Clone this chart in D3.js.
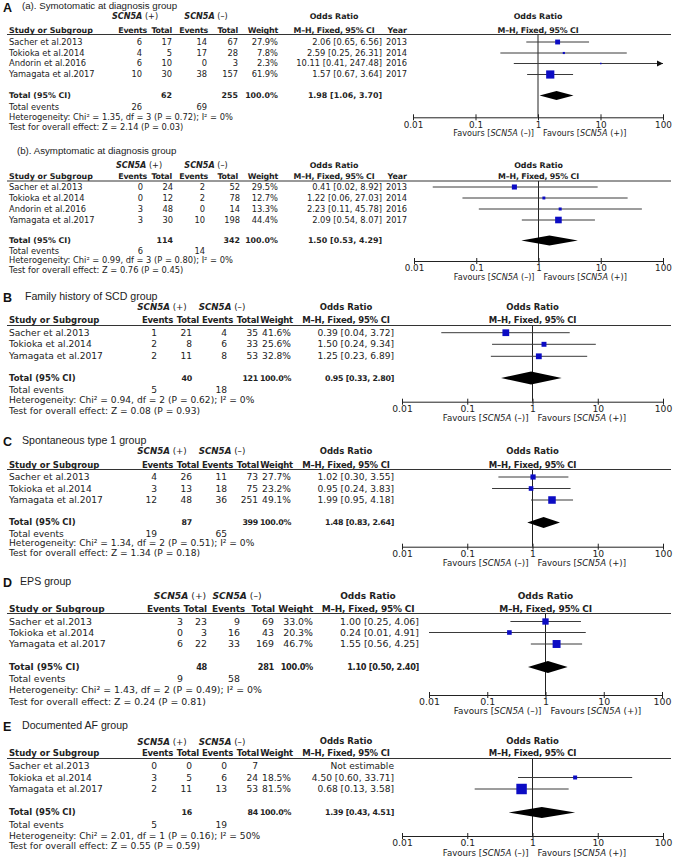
<!DOCTYPE html>
<html><head><meta charset="utf-8">
<script src="https://cdn.jsdelivr.net/npm/d3@7"></script>
<style>body{margin:0;background:#fff} svg{display:block}</style>
</head><body>
<script>
// ================= DATA =================
const panelLetters = ["A", "", "B", "C", "D", "E"];
const panelTitles = [
  "(a). Symotomatic at diagnosis group",
  "(b). Asymptomatic at diagnosis group",
  "Family history of SCD group",
  "Spontaneous type 1 group",
  "EPS group",
  "Documented AF group"
];
const studies4 = ["Sacher et al.2013", "Tokioka et al.2014", "Andorin et al.2016", "Yamagata et al.2017"];
const studies3 = ["Sacher et al.2013", "Tokioka et al.2014", "Yamagata et al.2017"];
const years4 = [2013, 2014, 2016, 2017];

// (a) symptomatic
const evPos_a = [6, 4, 6, 10], totPos_a = [17, 5, 10, 30], evNeg_a = [14, 17, 0, 38], totNeg_a = [67, 28, 3, 157];
const weight_a = [27.9, 7.8, 2.3, 61.9], or_a = [2.06, 2.59, 10.11, 1.57], lo_a = [0.65, 0.25, 0.41, 0.67], hi_a = [6.56, 26.31, 247.48, 3.64];
// (b) asymptomatic
const evPos_b = [0, 0, 3, 3], totPos_b = [24, 12, 48, 30], evNeg_b = [2, 2, 0, 10], totNeg_b = [52, 78, 14, 198];
const weight_b = [29.5, 12.7, 13.3, 44.4], or_b = [0.41, 1.22, 2.23, 2.09], lo_b = [0.02, 0.06, 0.11, 0.54], hi_b = [8.92, 27.03, 45.78, 8.07];
// B family history
const evPos_B = [1, 2, 2], totPos_B = [21, 8, 11], evNeg_B = [4, 6, 8], totNeg_B = [35, 33, 53];
const weight_B = [41.6, 25.6, 32.8], or_B = [0.39, 1.50, 1.25], lo_B = [0.04, 0.24, 0.23], hi_B = [3.72, 9.34, 6.89];
// C spontaneous type 1
const evPos_C = [4, 3, 12], totPos_C = [26, 13, 48], evNeg_C = [11, 18, 36], totNeg_C = [73, 75, 251];
const weight_C = [27.7, 23.2, 49.1], or_C = [1.02, 0.95, 1.99], lo_C = [0.30, 0.24, 0.95], hi_C = [3.55, 3.83, 4.18];
// D EPS
const evPos_D = [3, 0, 6], totPos_D = [23, 3, 22], evNeg_D = [9, 16, 33], totNeg_D = [69, 43, 169];
const weight_D = [33.0, 20.3, 46.7], or_D = [1.00, 0.24, 1.55], lo_D = [0.25, 0.01, 0.56], hi_D = [4.06, 4.91, 4.25];
// E documented AF
const evPos_E = [0, 3, 2], totPos_E = [0, 5, 11], evNeg_E = [0, 6, 13], totNeg_E = [7, 24, 53];
const weight_E = [null, 18.5, 81.5], or_E = [null, 4.50, 0.68], lo_E = [null, 0.60, 0.13], hi_E = [null, 33.71, 3.58];

// totals / statistics, one entry per panel
const totalPos = [62, 114, 40, 87, 48, 16];
const totalNeg = [255, 342, 121, 399, 281, 84];
const totalOR = [1.98, 1.50, 0.95, 1.48, 1.10, 1.39];
const totalLo = [1.06, 0.53, 0.33, 0.83, 0.50, 0.43];
const totalHi = [3.70, 4.29, 2.80, 2.64, 2.40, 4.51];
const totalEvPos = [26, 6, 5, 19, 9, 5];
const totalEvNeg = [69, 14, 18, 65, 58, 19];
const hetChi2 = [1.35, 0.99, 0.94, 1.34, 1.43, 2.01];
const hetDf = [3, 3, 2, 2, 2, 1];
const hetP = [0.72, 0.80, 0.62, 0.51, 0.49, 0.16];
const hetI2 = [0, 0, 0, 0, 0, 50];
const effZ = [2.14, 0.76, 0.08, 1.34, 0.24, 0.55];
const effP = [0.03, 0.45, 0.93, 0.18, 0.81, 0.59];
const axisTicks = [0.01, 0.1, 1, 10, 100];

// tables built from the arrays above
const panels = [
  {studies: studies4, years: years4, evPos: evPos_a, totPos: totPos_a, evNeg: evNeg_a, totNeg: totNeg_a, weight: weight_a, or: or_a, lo: lo_a, hi: hi_a},
  {studies: studies4, years: years4, evPos: evPos_b, totPos: totPos_b, evNeg: evNeg_b, totNeg: totNeg_b, weight: weight_b, or: or_b, lo: lo_b, hi: hi_b},
  {studies: studies3, years: null, evPos: evPos_B, totPos: totPos_B, evNeg: evNeg_B, totNeg: totNeg_B, weight: weight_B, or: or_B, lo: lo_B, hi: hi_B},
  {studies: studies3, years: null, evPos: evPos_C, totPos: totPos_C, evNeg: evNeg_C, totNeg: totNeg_C, weight: weight_C, or: or_C, lo: lo_C, hi: hi_C},
  {studies: studies3, years: null, evPos: evPos_D, totPos: totPos_D, evNeg: evNeg_D, totNeg: totNeg_D, weight: weight_D, or: or_D, lo: lo_D, hi: hi_D},
  {studies: studies3, years: null, evPos: evPos_E, totPos: totPos_E, evNeg: evNeg_E, totNeg: totNeg_E, weight: weight_E, or: or_E, lo: lo_E, hi: hi_E}
];

// ================= LAYOUT =================
const colsA = {study: 9, ev1: 142, tot1: 172, ev2: 207, tot2: 238, wt: 278, or: 382, year: 407,
  ev1H: 147, tot1H: 172, ev2H: 208, tot2H: 238, wtH: 278, yearH: 407, plusC: 135, minusC: 206, orC: 334};
const colsAb = Object.assign({}, colsA, {ev1: 143, tot1: 173, ev2: 205, tot2: 240, plusC: 139});
const colsB = {study: 9, ev1: 157, tot1: 192, ev2: 227, tot2: 258, wt: 291, or: 394,
  ev1H: 173, tot1H: 199, ev2H: 233, tot2H: 259, wtH: 293, plusC: 162, minusC: 222, orC: 346};
const colsD = {study: 9, ev1: 183, tot1: 207, ev2: 240, tot2: 274, wt: 313, or: 419,
  ev1H: 180, tot1H: 207, ev2H: 245, tot2H: 275, wtH: 313, plusC: 180, minusC: 237, orC: 368};

const layouts = [
  {titleY: 6, titleX: 22, h1: 16.5, h2: 30, line: 34.5, rows: [42, 53, 63.5, 74.5], total: 95.5, te: 107, het: 117.5, test: 127.5,
   axisY: 117.3, tickY: 124.5, favY: 133.5, fr: 8.3, fb: 7.9, fbn: 7.9, lsn: 0, ftk: 8.8, ffav: 8.1, fTitle: 9.7, forest: [413, 663], dH: 4.5, sqK: 0.86, col: colsA},
  {titleY: 151, titleX: 17, h1: 165.5, h2: 176, line: 181, rows: [187, 198, 209, 220], total: 240.5, te: 250.7, het: 260.5, test: 270,
   axisY: 261, tickY: 267.5, favY: 277.5, fr: 8.3, fb: 7.9, fbn: 7.9, lsn: 0, ftk: 8.8, ffav: 8.1, fTitle: 9.7, forest: [414, 663], dH: 5, sqK: 0.86, col: colsAb},
  {titleY: 296, titleX: 25, h1: 307, h2: 320, line: 325.5, rows: [332.7, 344.3, 356.3], total: 378, te: 389.5, het: 400, test: 410.5,
   axisY: 401.7, tickY: 408.5, favY: 418, fr: 9.1, fb: 8.5, fbn: 7.9, lsn: -0.3, ftk: 9.2, ffav: 8.6, fTitle: 10.6, forest: [402, 663], dH: 6.5, sqK: 0.92, col: colsB},
  {titleY: 440.5, titleX: 22, h1: 451, h2: 465, line: 469.5, rows: [477, 488.5, 500], total: 522.5, te: 533.5, het: 543, test: 553,
   axisY: 546.7, tickY: 553.5, favY: 562.5, fr: 9.1, fb: 8.5, fbn: 7.9, lsn: -0.3, ftk: 9.2, ffav: 8.6, fTitle: 10.6, forest: [402, 663], dH: 5.5, sqK: 0.92, col: colsB},
  {titleY: 581, titleX: 20, h1: 595.5, h2: 608.5, line: 613.5, rows: [621.5, 632.5, 644], total: 667, te: 679, het: 690, test: 702,
   axisY: 695, tickY: 702, favY: 711, fr: 9.4, fb: 9.0, fbn: 8.2, lsn: -0.3, ftk: 9.4, ffav: 8.8, fTitle: 10.6, forest: [429, 662], dH: 6, sqK: 1.0, col: colsD},
  {titleY: 725, titleX: 22, h1: 741.5, h2: 753, line: 758.5, rows: [766, 777.5, 789], total: 812.5, te: 825, het: 835.5, test: 846,
   axisY: 836, tickY: 843, favY: 853, fr: 9.1, fb: 8.5, fbn: 7.9, lsn: -0.3, ftk: 9.2, ffav: 8.6, fTitle: 10.6, forest: [402, 663], dH: 5.5, sqK: 0.92, col: colsB}
];

// ================= DRAW =================
const W = 673, H = 860;
const svg = d3.select("body").append("svg").attr("width", W).attr("height", H)
  .style("font-family", "'DejaVu Sans', Verdana, sans-serif").attr("fill", "#222");
const f2 = d3.format(".2f"), f1 = d3.format(".1f");
const sqScale = d3.scalePow().exponent(0.65).domain([0, 100]).range([0, 13]);
const TXT = "#222", LINE = "#333", BLUE = "#0c0cc4";

function txt(g, x, y, s, size, opt = {}) {
  const t = g.append("text").attr("x", x).attr("y", y).attr("dy", "0.35em")
    .attr("text-anchor", opt.anchor || "start")
    .style("font-size", size + "px")
    .style("font-weight", opt.bold ? "bold" : "normal")
    .attr("fill", TXT)
    .text(s);
  if (opt.ls) t.style("letter-spacing", opt.ls + "px");
  return t;
}

function scnLabel(g, x, y, sign, size, anchor, prefix, bold) {
  const t = g.append("text").attr("x", x).attr("y", y).attr("dy", "0.35em")
    .attr("text-anchor", anchor).style("font-size", size + "px").attr("fill", TXT);
  if (prefix) t.append("tspan").text(prefix);
  t.append("tspan").style("font-style", "italic").style("font-weight", bold ? "bold" : "normal").text("SCN5A");
  t.append("tspan").text(" (" + sign + ")" + (prefix ? "]" : ""));
  return t;
}

panels.forEach((p, i) => {
  const L = layouts[i], C = L.col;
  const g = svg.append("g");
  // title
  if (panelLetters[i]) {
    g.append("text").attr("x", 3).attr("y", L.titleY + 1).attr("dy", "0.36em")
      .style("font-family", "'Liberation Sans', Arial, sans-serif").style("font-weight", "bold")
      .style("font-size", "12.5px").attr("fill", "#111").text(panelLetters[i]);
  }
  g.append("text").attr("x", L.titleX).attr("y", L.titleY).attr("dy", "0.36em")
    .style("font-family", "'Liberation Sans', Arial, sans-serif")
    .style("font-size", L.fTitle + "px").attr("fill", "#222").text(panelTitles[i]);

  const x = d3.scaleLog().domain([axisTicks[0], axisTicks[axisTicks.length - 1]]).range(L.forest);
  const hls = -0.2;
  // headers row 1
  scnLabel(g, C.plusC, L.h1, "+", L.fb + 0.2, "middle", null, true);
  scnLabel(g, C.minusC, L.h1, "–", L.fb + 0.2, "middle", null, true);
  txt(g, C.orC, L.h1, "Odds Ratio", L.fb, {anchor: "middle", bold: true});
  txt(g, x(1), L.h1, "Odds Ratio", L.fb, {anchor: "middle", bold: true});
  // headers row 2
  txt(g, C.study, L.h2, "Study or Subgroup", L.fb, {bold: true});
  txt(g, C.ev1H, L.h2, "Events", L.fb, {anchor: "end", bold: true, ls: hls});
  txt(g, C.tot1H, L.h2, "Total", L.fb, {anchor: "end", bold: true, ls: hls});
  txt(g, C.ev2H, L.h2, "Events", L.fb, {anchor: "end", bold: true, ls: hls});
  txt(g, C.tot2H, L.h2, "Total", L.fb, {anchor: "end", bold: true, ls: hls});
  txt(g, C.wtH, L.h2, "Weight", L.fb, {anchor: "end", bold: true, ls: hls});
  txt(g, C.orC, L.h2, "M–H, Fixed, 95% CI", L.fb, {anchor: "middle", bold: true, ls: hls});
  if (p.years) txt(g, C.yearH, L.h2, "Year", L.fb, {anchor: "end", bold: true});
  txt(g, x(1), L.h2, "M–H, Fixed, 95% CI", L.fb, {anchor: "middle", bold: true, ls: hls});
  g.append("line").attr("x1", 7).attr("x2", 671).attr("y1", L.line).attr("y2", L.line)
    .attr("stroke", LINE).attr("stroke-width", 1);

  // study rows
  p.studies.forEach((s, j) => {
    const y = L.rows[j];
    txt(g, C.study, y, s, L.fr);
    txt(g, C.ev1, y, p.evPos[j], L.fr, {anchor: "end"});
    txt(g, C.tot1, y, p.totPos[j], L.fr, {anchor: "end"});
    txt(g, C.ev2, y, p.evNeg[j], L.fr, {anchor: "end"});
    txt(g, C.tot2, y, p.totNeg[j], L.fr, {anchor: "end"});
    if (p.weight[j] != null) {
      txt(g, C.wt, y, f1(p.weight[j]) + "%", L.fr, {anchor: "end"});
      txt(g, C.or, y, `${f2(p.or[j])} [${f2(p.lo[j])}, ${f2(p.hi[j])}]`, L.fr, {anchor: "end"});
    } else {
      txt(g, C.or, y, "Not estimable", L.fr, {anchor: "end"});
    }
    if (p.years) txt(g, C.year, y, p.years[j], L.fr, {anchor: "end"});
  });
  // total row
  txt(g, C.study, L.total, "Total (95% CI)", L.fb, {bold: true});
  txt(g, C.tot1, L.total, totalPos[i], L.fbn, {anchor: "end", bold: true, ls: L.lsn});
  txt(g, C.tot2, L.total, totalNeg[i], L.fbn, {anchor: "end", bold: true, ls: L.lsn});
  txt(g, C.wt, L.total, "100.0%", L.fbn, {anchor: "end", bold: true, ls: L.lsn});
  txt(g, C.or, L.total, `${f2(totalOR[i])} [${f2(totalLo[i])}, ${f2(totalHi[i])}]`, L.fbn, {anchor: "end", bold: true, ls: L.lsn});
  txt(g, C.study, L.te, "Total events", L.fr);
  txt(g, C.ev1, L.te, totalEvPos[i], L.fr, {anchor: "end"});
  txt(g, C.ev2, L.te, totalEvNeg[i], L.fr, {anchor: "end"});
  txt(g, C.study, L.het, `Heterogeneity: Chi² = ${f2(hetChi2[i])}, df = ${hetDf[i]} (P = ${f2(hetP[i])}); I² = ${hetI2[i]}%`, L.fr);
  txt(g, C.study, L.test, `Test for overall effect: Z = ${f2(effZ[i])} (P = ${f2(effP[i])})`, L.fr);

  // forest: vertical line of no effect
  g.append("line").attr("x1", x(1)).attr("x2", x(1)).attr("y1", L.line).attr("y2", L.axisY)
    .attr("stroke", "#222").attr("stroke-width", 1);
  const [xmin, xmax] = x.domain();
  p.studies.forEach((s, j) => {
    if (p.weight[j] == null) return;
    const y = L.rows[j];
    const lo = Math.max(p.lo[j], xmin), hi = Math.min(p.hi[j], xmax);
    g.append("line").attr("x1", x(lo)).attr("x2", x(hi)).attr("y1", y).attr("y2", y)
      .attr("stroke", "#3a3a3a").attr("stroke-width", 1);
    if (p.hi[j] > xmax) {
      const xe = x(xmax);
      g.append("path").attr("d", `M${xe},${y}L${xe - 6},${y - 3}L${xe - 6},${y + 3}Z`).attr("fill", "#111");
    }
    const side = Math.max(1.5, L.sqK * sqScale(p.weight[j]));
    g.append("rect").attr("x", x(p.or[j]) - side / 2).attr("y", y - side / 2)
      .attr("width", side).attr("height", side).attr("fill", BLUE);
  });
  // diamond
  const yd = L.total;
  g.append("path")
    .attr("d", `M${x(totalLo[i])},${yd}L${x(totalOR[i])},${yd - L.dH}L${x(totalHi[i])},${yd}L${x(totalOR[i])},${yd + L.dH}Z`)
    .attr("fill", "#000");
  // axis
  const ax = g.append("g").attr("transform", `translate(0,${L.axisY})`)
    .call(d3.axisBottom(x).tickValues(axisTicks).tickFormat(d3.format("~g")).tickSize(3).tickSizeOuter(0).tickPadding(0));
  ax.select(".domain").attr("stroke", "#222");
  ax.selectAll(".tick line").attr("y1", -3).attr("y2", 3).attr("stroke", "#222");
  ax.selectAll(".tick text").attr("y", L.tickY - L.axisY).attr("dy", "0.35em")
    .style("font-family", "'DejaVu Sans', Verdana, sans-serif").style("font-size", L.ftk + "px").attr("fill", TXT);
  // favours labels
  scnLabel(g, x(1) - 4, L.favY, "–", L.ffav, "end", "Favours [", false);
  scnLabel(g, x(1) + 5, L.favY, "+", L.ffav, "start", "Favours [", false);
});
</script>
</body></html>
